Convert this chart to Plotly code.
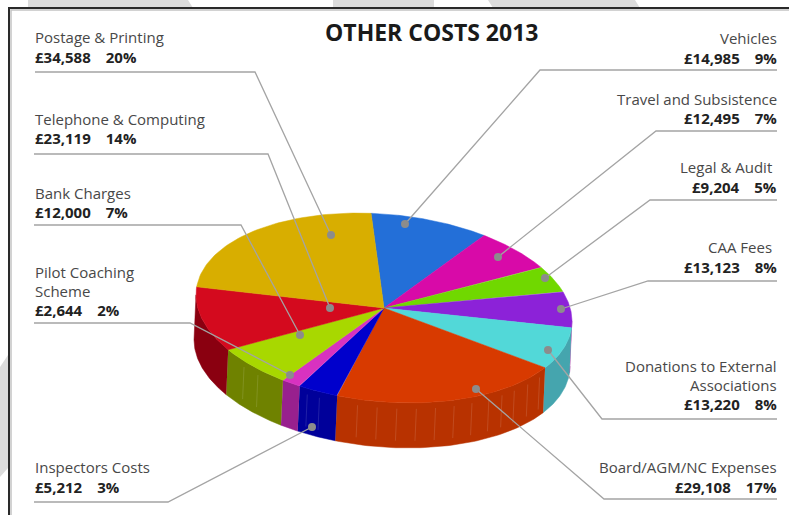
import numpy as np
import plotly.graph_objects as go

# Other costs 2013, clockwise from the twelve o'clock slice
categories = ["Vehicles", "Travel and Subsistence", "Legal & Audit", "CAA Fees",
              "Donations to External Associations", "Board/AGM/NC Expenses",
              "Inspectors Costs", "Pilot Coaching Scheme", "Bank Charges",
              "Telephone & Computing", "Postage & Printing"]
amounts = [14985, 12495, 9204, 13123, 13220, 29108, 5212, 2644, 12000, 23119, 34588]
percents = [9, 7, 5, 8, 8, 17, 3, 2, 7, 14, 20]
top_colors = ["#236fd8", "#d80aa8", "#70d800", "#8c22d8", "#52d8d8", "#d83a00",
              "#0000cc", "#d832c0", "#a8d800", "#d40a1e", "#d8ae00"]
side_colors = ["#1a539f", "#9f087c", "#529f00", "#97209a", "#45a5ae", "#b83200",
               "#00009a", "#98208e", "#6f8200", "#8a0010", "#9f8000"]

# Pie projection, in page pixels
CX, CY, RX, RY, SKEW = 384, 308, 188, 94, 0.07
DEPTH, LEAN = 45, -2
START = -3.0


def warp(deg):
    # view distortion of the flat disc: stretches along one diagonal
    r = np.radians(deg)
    return deg - 3.3 + 6 * np.sin(2 * r) + 3 * np.cos(2 * r)


def rim(deg, drop=0.0):
    r = np.radians(deg)
    x = CX + RX * np.sin(r) + LEAN * drop / DEPTH
    y = CY - RY * np.cos(r) + SKEW * RX * np.sin(r) + drop
    return x, y


shares = np.array(amounts, dtype=float) / sum(amounts) * 360
edges = START + np.concatenate([[0], np.cumsum(shares)])

fig = go.Figure()

# Rim bands first, so the top faces sit over them
for a, b, col in zip(edges[:-1], edges[1:], side_colors):
    lo, hi = max(warp(a), 90), min(warp(b), 270)
    if hi <= lo:
        continue
    t = np.linspace(lo, hi, 60)
    x1, y1 = rim(t)
    x2, y2 = rim(t[::-1], DEPTH)
    fig.add_trace(go.Scatter(x=np.r_[x1, x2], y=np.r_[y1, y2], mode="lines", fill="toself",
                             fillcolor=col, line=dict(color=col, width=0.5),
                             hoverinfo="skip", showlegend=False))

# Faint panel seams on the rim of the front slices
for a in [124, 130, 136, 141, 146, 152, 158, 164, 170, 176, 182, 188, 200, 204, 222, 228]:
    x1, y1 = rim(np.array([a]), 6)
    x2, y2 = rim(np.array([a]), 38)
    fig.add_trace(go.Scatter(x=[x1[0], x2[0]], y=[y1[0], y2[0]], mode="lines",
                             line=dict(color="rgba(255,255,255,0.12)", width=1),
                             hoverinfo="skip", showlegend=False))

# Top faces
for a, b, col, name in zip(edges[:-1], edges[1:], top_colors, categories):
    t = np.linspace(warp(a), warp(b), 60)
    x, y = rim(t)
    fig.add_trace(go.Scatter(x=np.r_[CX, x, CX], y=np.r_[CY, y, CY], mode="lines", fill="toself",
                             fillcolor=col, line=dict(color=col, width=0.5),
                             name=name, hoverinfo="name", showlegend=False))

# Leader routes: label rule start, elbow, anchor on the pie
leaders = [
    [(35, 72), (255, 72), (331, 235)],
    [(34, 154), (268, 154), (330, 308)],
    [(34, 225), (241, 225), (300, 335)],
    [(34, 323), (190, 323), (290, 375)],
    [(34, 502), (168, 502), (312, 427)],
    [(777, 70), (540, 70), (405, 224)],
    [(777, 131), (656, 131), (498, 257)],
    [(777, 200), (650, 200), (545, 278)],
    [(777, 281), (648, 281), (561, 309)],
    [(777, 419), (602, 419), (548, 350)],
    [(777, 499), (604, 499), (476, 389)],
]
for route in leaders:
    fig.add_trace(go.Scatter(x=[p[0] for p in route], y=[p[1] for p in route], mode="lines",
                             line=dict(color="#a4a4a4", width=1.3),
                             hoverinfo="skip", showlegend=False))
    fig.add_trace(go.Scatter(x=[route[-1][0]], y=[route[-1][1]], mode="markers",
                             marker=dict(color="#8c8c8c", size=8),
                             hoverinfo="skip", showlegend=False))

FONT = "Open Sans"


def money(i):
    return f"£{amounts[i]:,}\u2003{percents[i]}%"


# name lines, side, name y positions, value y position
label_layout = {
    10: (["Postage & Printing"], "left", [37], 57),
    9: (["Telephone & Computing"], "left", [119], 138),
    8: (["Bank Charges"], "left", [193], 212),
    7: (["Pilot Coaching", "Scheme"], "left", [272, 291], 310),
    6: (["Inspectors Costs"], "left", [467], 487),
    0: (["Vehicles"], "right", [38], 58),
    1: (["Travel and Subsistence"], "right", [99], 118),
    2: (["Legal & Audit"], "right", [167], 187),
    3: (["CAA Fees"], "right", [247], 267),
    4: (["Donations to External", "Associations"], "right", [366, 385], 404),
    5: (["Board/AGM/NC Expenses"], "right", [467], 487),
}
for i, (lines, side, ys, vy) in label_layout.items():
    ax = 33 if side == "left" else 779
    for line, y in zip(lines, ys):
        nudge = -5 if line in ("Legal & Audit", "CAA Fees") else 0
        fig.add_annotation(x=ax + nudge, y=y, text=line, showarrow=False, xanchor=side,
                           yanchor="middle", font=dict(family=FONT, size=15, color="#484848"))
    fig.add_annotation(x=ax, y=vy, text=f"<b>{money(i)}</b>", showarrow=False, xanchor=side,
                       yanchor="middle", font=dict(family=FONT, size=15, color="#222222"))

fig.add_annotation(x=431, y=32, text="<b>OTHER COSTS 2013</b>", showarrow=False,
                   font=dict(family=FONT, size=23, color="#1a1a1a"))

# Page backdrop: grey diagonal bands behind a framed white panel
bands = [
    "M 28 0 L 188 0 L 193 8 L 28 8 Z",
    "M 333 0 L 434 0 L 434 8 L 333 8 Z",
    "M 488 0 L 635 0 L 640 8 L 493 8 Z",
    "M 0 367 L 8 355 L 8 468 L 0 477 Z",
]
shapes = [dict(type="path", path=p, xref="x", yref="y", fillcolor="#dcdcdc",
               line=dict(width=0), layer="below") for p in bands]
shapes.append(dict(type="rect", x0=9, y0=8, x1=800, y1=530, xref="x", yref="y",
                   fillcolor="#ffffff", line=dict(color="#2a2a2a", width=2), layer="below"))
shapes.append(dict(type="rect", x0=11, y0=10, x1=800, y1=530, xref="x", yref="y",
                   fillcolor="rgba(0,0,0,0)", line=dict(color="#c4c4c4", width=1.5), layer="below"))

fig.update_layout(
    width=789, height=515, margin=dict(l=0, r=0, t=0, b=0),
    paper_bgcolor="#ffffff", plot_bgcolor="#ffffff", shapes=shapes,
    xaxis=dict(range=[0, 789], visible=False, fixedrange=True),
    yaxis=dict(range=[515, 0], visible=False, fixedrange=True),
    showlegend=False,
)
fig.write_html("out.html", config=dict(displayModeBar=False))
